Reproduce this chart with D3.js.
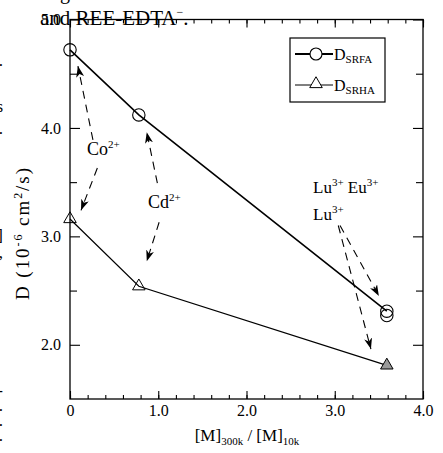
<!DOCTYPE html>
<html>
<head>
<meta charset="utf-8">
<script src="https://cdn.jsdelivr.net/npm/d3@7"></script>
<style>
  html, body { margin: 0; padding: 0; background: #fff; }
  svg text { font-family: "Liberation Serif", "Times New Roman", serif; fill: #000; }
</style>
</head>
<body>
<svg id="chart" width="443" height="453"></svg>
<script>
// ratio [M]300k/[M]10k and diffusion coefficient D (10^-6 cm2/s)
const ratioSRFA = [0, 0.78, 3.59, 3.59];
const dSRFA     = [4.72, 4.12, 2.31, 2.27];
const ratioSRHA = [0, 0.78, 3.59];
const dSRHA     = [3.16, 2.54, 1.81];

const xMajor = [0, 1, 2, 3, 4];
const xMinor = d3.range(0, 4.01, 0.2);
const yMajor = [2, 3, 4, 5];
const yMinor = [2.5, 3.5, 4.5];

// dashed arrows (data units): from label towards points
const arrows = [
  [0.26, 3.89, 0.09, 4.57],
  [0.31, 3.63, 0.125, 3.24],
  [0.99, 3.49, 0.87, 3.96],
  [1.01, 3.13, 0.87, 2.77],
  [3.06, 3.10, 3.50, 2.45],
  [3.04, 3.10, 3.41, 1.96]
];

const svg = d3.select('#chart');
const margin = { top: 19.5, right: 20, bottom: 54, left: 70 };
const width = 443 - margin.left - margin.right;   // 353
const height = 453 - margin.top - margin.bottom;  // 379.5

const x = d3.scaleLinear().domain([0, 4]).range([0, width]);
const y = d3.scaleLinear().domain([1.5, 5]).range([height, 0]);

// stray caption text clipped from the page
svg.append('text').attr('x', 40).attr('y', 25).style('font-size', '21px')
  .html('and REE-EDTA<tspan dy="-9" style="font-size:12px">\u2212</tspan><tspan dy="9">.</tspan>');
svg.append('text').attr('x', 60).attr('y', -1).style('font-size', '20px').text('g');
const edgeBits = [[66, '.'], [112, 's'], [134, '.'], [241, ']'], [258, ','], [396, '-'], [411, '.'], [426, '.'], [441, '.']];
svg.selectAll('.edge').data(edgeBits).enter().append('text')
  .attr('class', 'edge')
  .attr('x', 3).attr('y', d => d[0])
  .attr('text-anchor', 'end')
  .style('font-size', '17px')
  .text(d => d[1]);

const g = svg.append('g').attr('transform', `translate(${margin.left},${margin.top})`);

// frame
g.append('rect').attr('width', width).attr('height', height)
  .attr('fill', 'none').attr('stroke', '#000').attr('stroke-width', 1.3);

const fmt = d => d === 0 ? '0' : d3.format('.1f')(d);

function styleAxis(sel) {
  sel.select('.domain').remove();
  sel.selectAll('line').attr('stroke', '#000').attr('stroke-width', 1.1);
  sel.selectAll('text').style('font-size', '16px').attr('fill', '#000');
}

// bottom axis
g.append('g').attr('transform', `translate(0,${height})`)
  .call(d3.axisBottom(x).tickValues(xMinor).tickSize(-4).tickFormat(''))
  .call(styleAxis);
g.append('g').attr('transform', `translate(0,${height})`)
  .call(d3.axisBottom(x).tickValues(xMajor).tickSize(-8).tickPadding(6).tickFormat(fmt))
  .call(styleAxis);
// top axis
g.append('g')
  .call(d3.axisTop(x).tickValues(xMinor).tickSize(-4).tickFormat(''))
  .call(styleAxis);
g.append('g')
  .call(d3.axisTop(x).tickValues(xMajor).tickSize(-8).tickFormat(''))
  .call(styleAxis);
// left axis
g.append('g')
  .call(d3.axisLeft(y).tickValues(yMinor).tickSize(-7).tickFormat(''))
  .call(styleAxis);
g.append('g')
  .call(d3.axisLeft(y).tickValues(yMajor).tickSize(-10).tickPadding(9).tickFormat(fmt))
  .call(styleAxis);
// right axis
g.append('g').attr('transform', `translate(${width},0)`)
  .call(d3.axisRight(y).tickValues(yMinor).tickSize(-7).tickFormat(''))
  .call(styleAxis);
g.append('g').attr('transform', `translate(${width},0)`)
  .call(d3.axisRight(y).tickValues(yMajor).tickSize(-10).tickFormat(''))
  .call(styleAxis);

// axis titles
svg.append('text')
  .attr('transform', 'translate(29,234) rotate(-90)')
  .attr('text-anchor', 'middle')
  .attr('textLength', 132).attr('lengthAdjust', 'spacing')
  .style('font-size', '19px')
  .html('D (10<tspan dy="-7" style="font-size:12px">-6</tspan><tspan dy="7"> cm</tspan><tspan dy="-7" style="font-size:12px">2</tspan><tspan dy="7">/s)</tspan>');

svg.append('text')
  .attr('x', 247).attr('y', 441)
  .attr('text-anchor', 'middle')
  .style('font-size', '17px')
  .html('[M]<tspan dy="4" style="font-size:11px">300k</tspan><tspan dy="-4"> / [M]</tspan><tspan dy="4" style="font-size:11px">10k</tspan>');

// arrow marker
svg.append('defs').append('marker')
  .attr('id', 'head')
  .attr('markerUnits', 'userSpaceOnUse')
  .attr('markerWidth', 12).attr('markerHeight', 10)
  .attr('refX', 11).attr('refY', 4)
  .attr('orient', 'auto')
  .append('path').attr('d', 'M0,0 L11,4 L0,8 L3,4 Z').attr('fill', '#000');

g.selectAll('.arrow').data(arrows).enter().append('line')
  .attr('class', 'arrow')
  .attr('x1', d => x(d[0])).attr('y1', d => y(d[1]))
  .attr('x2', d => x(d[2])).attr('y2', d => y(d[3]))
  .attr('stroke', '#000').attr('stroke-width', 1.1)
  .attr('stroke-dasharray', '8,6')
  .attr('marker-end', 'url(#head)');

// series lines
const line = d3.line().x(d => x(d[0])).y(d => y(d[1]));
const srfa = ratioSRFA.map((r, i) => [r, dSRFA[i]]);
const srha = ratioSRHA.map((r, i) => [r, dSRHA[i]]);

g.append('path').datum(srfa.slice(0, 3)).attr('d', line)
  .attr('fill', 'none').attr('stroke', '#000').attr('stroke-width', 1.6);
g.append('path').datum(srha).attr('d', line)
  .attr('fill', 'none').attr('stroke', '#000').attr('stroke-width', 1.2);

// markers
g.selectAll('.circ').data(srfa).enter().append('circle')
  .attr('class', 'circ')
  .attr('cx', d => x(d[0])).attr('cy', d => y(d[1]))
  .attr('r', 6.2)
  .attr('fill', 'none').attr('stroke', '#000').attr('stroke-width', 1.1);

const tri = d3.symbol().type(d3.symbolTriangle).size(68);
g.selectAll('.tri').data(srha).enter().append('path')
  .attr('class', 'tri')
  .attr('transform', d => `translate(${x(d[0])},${y(d[1])})`)
  .attr('d', tri)
  .attr('fill', (d, i) => i === srha.length - 1 ? '#9a9a9a' : 'none')
  .attr('stroke', '#000').attr('stroke-width', 1);

// ion labels
const sup = (base, s) => `${base}<tspan dy="-7" style="font-size:11px">${s}</tspan>`;
g.append('text').attr('x', 87 - margin.left).attr('y', 155 - margin.top)
  .style('font-size', '18px').html(sup('Co', '2+'));
g.append('text').attr('x', 148 - margin.left).attr('y', 208 - margin.top)
  .style('font-size', '18px').html(sup('Cd', '2+'));
g.append('text').attr('x', 313 - margin.left).attr('y', 193 - margin.top)
  .style('font-size', '17px').html(sup('Lu', '3+') + '<tspan dy="7">  </tspan>' + sup('Eu', '3+'));
g.append('text').attr('x', 313 - margin.left).attr('y', 220 - margin.top)
  .style('font-size', '17px').html(sup('Lu', '3+'));

// legend
const leg = svg.append('g');
leg.append('rect').attr('x', 290).attr('y', 38).attr('width', 95).attr('height', 64)
  .attr('fill', '#fff').attr('stroke', '#000').attr('stroke-width', 1.2);
leg.append('line').attr('x1', 295).attr('x2', 333).attr('y1', 54).attr('y2', 54)
  .attr('stroke', '#000').attr('stroke-width', 2);
leg.append('circle').attr('cx', 316).attr('cy', 54).attr('r', 6)
  .attr('fill', '#fff').attr('stroke', '#000').attr('stroke-width', 1.1);
leg.append('line').attr('x1', 295).attr('x2', 333).attr('y1', 85).attr('y2', 85)
  .attr('stroke', '#000').attr('stroke-width', 1);
leg.append('path').attr('transform', 'translate(316,84)').attr('d', tri)
  .attr('fill', '#fff').attr('stroke', '#000').attr('stroke-width', 1);
leg.append('text').attr('x', 334).attr('y', 60).style('font-size', '16px')
  .html('D<tspan dy="3" style="font-size:11px">SRFA</tspan>');
leg.append('text').attr('x', 334).attr('y', 91).style('font-size', '16px')
  .html('D<tspan dy="3" style="font-size:11px">SRHA</tspan>');
</script>
</body>
</html>
